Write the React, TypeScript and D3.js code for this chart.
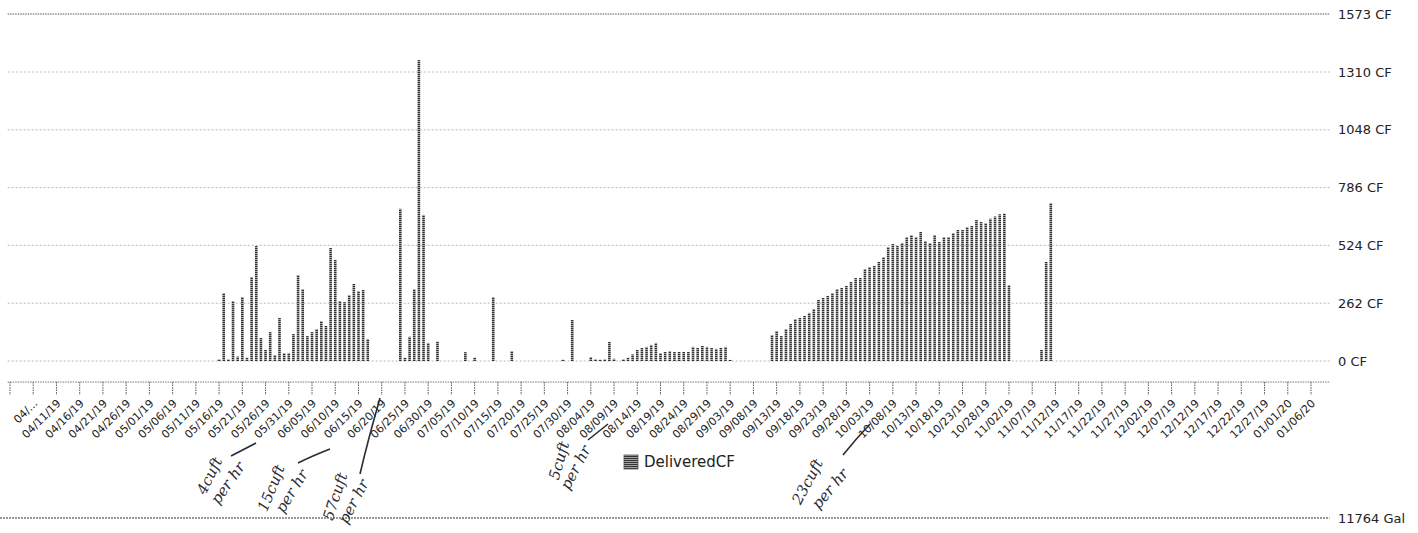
import React from 'react';
import * as d3 from 'd3';

const W = 1418;
const H = 533;

// y axis ticks (cubic feet)
const yTicks = [0, 262, 524, 786, 1048, 1310, 1573];

// x axis tick labels, every 5 days from 04/01/19
const tickLabels = [
  '', '04/...', '04/11/19', '04/16/19', '04/21/19', '04/26/19', '05/01/19', '05/06/19', '05/11/19',
  '05/16/19', '05/21/19', '05/26/19', '05/31/19', '06/05/19', '06/10/19', '06/15/19', '06/20/19',
  '06/25/19', '06/30/19', '07/05/19', '07/10/19', '07/15/19', '07/20/19', '07/25/19', '07/30/19',
  '08/04/19', '08/09/19', '08/14/19', '08/19/19', '08/24/19', '08/29/19', '09/03/19', '09/08/19',
  '09/13/19', '09/18/19', '09/23/19', '09/28/19', '10/03/19', '10/08/19', '10/13/19', '10/18/19',
  '10/23/19', '10/28/19', '11/02/19', '11/07/19', '11/12/19', '11/17/19', '11/22/19', '11/27/19',
  '12/02/19', '12/07/19', '12/12/19', '12/17/19', '12/22/19', '12/27/19', '01/01/20', '01/06/20',
];

// daily delivered volume
const barDates = [
  '05/16/19', '05/17/19', '05/18/19', '05/19/19', '05/20/19', '05/21/19', '05/22/19', '05/23/19',
  '05/24/19', '05/25/19', '05/26/19', '05/27/19', '05/28/19', '05/29/19', '05/30/19', '05/31/19',
  '06/01/19', '06/02/19', '06/03/19', '06/04/19', '06/05/19', '06/06/19', '06/07/19', '06/08/19',
  '06/09/19', '06/10/19', '06/11/19', '06/12/19', '06/13/19', '06/14/19', '06/15/19', '06/16/19',
  '06/17/19', '06/24/19', '06/25/19', '06/26/19', '06/27/19', '06/28/19', '06/29/19', '06/30/19',
  '07/02/19', '07/08/19', '07/10/19', '07/14/19', '07/18/19', '07/29/19', '07/31/19', '08/04/19',
  '08/05/19', '08/06/19', '08/07/19', '08/08/19', '08/09/19', '08/11/19', '08/12/19', '08/13/19',
  '08/14/19', '08/15/19', '08/16/19', '08/17/19', '08/18/19', '08/19/19', '08/20/19', '08/21/19',
  '08/22/19', '08/23/19', '08/24/19', '08/25/19', '08/26/19', '08/27/19', '08/28/19', '08/29/19',
  '08/30/19', '08/31/19', '09/01/19', '09/02/19', '09/03/19', '09/12/19', '09/13/19', '09/14/19',
  '09/15/19', '09/16/19', '09/17/19', '09/18/19', '09/19/19', '09/20/19', '09/21/19', '09/22/19',
  '09/23/19', '09/24/19', '09/25/19', '09/26/19', '09/27/19', '09/28/19', '09/29/19', '09/30/19',
  '10/01/19', '10/02/19', '10/03/19', '10/04/19', '10/05/19', '10/06/19', '10/07/19', '10/08/19',
  '10/09/19', '10/10/19', '10/11/19', '10/12/19', '10/13/19', '10/14/19', '10/15/19', '10/16/19',
  '10/17/19', '10/18/19', '10/19/19', '10/20/19', '10/21/19', '10/22/19', '10/23/19', '10/24/19',
  '10/25/19', '10/26/19', '10/27/19', '10/28/19', '10/29/19', '10/30/19', '10/31/19', '11/01/19',
  '11/02/19', '11/09/19', '11/10/19', '11/11/19',
];
const barValues = [
  8, 308, 8, 272, 20, 290, 15, 381,
  521, 104, 50, 131, 27, 195, 36, 36,
  122, 390, 326, 113, 131, 145, 181, 159,
  512, 458, 272, 267, 299, 349, 317, 322,
  100, 690, 15, 110, 325, 1364, 662, 82,
  88, 40, 15, 290, 45, 6, 186, 18,
  8, 6, 8, 86, 10, 8, 15, 30,
  50, 59, 64, 73, 82, 36, 41, 45,
  41, 41, 41, 41, 64, 59, 68, 64,
  59, 55, 59, 64, 5, 118, 136, 113,
  145, 168, 190, 195, 204, 218, 236, 277,
  286, 295, 308, 326, 331, 340, 358, 376,
  376, 417, 426, 431, 449, 471, 517, 530,
  521, 535, 562, 571, 562, 585, 544, 535,
  571, 539, 562, 562, 580, 594, 594, 607,
  612, 639, 630, 625, 645, 655, 665, 668,
  344, 50, 449, 716,
];

const legendLabel = 'DeliveredCF';
const nextPanelLabel = '11764 Gal';
const handNotes = [
  ['4cuft', 'per hr'],
  ['15cuft', 'per hr'],
  ['57cuft', 'per hr'],
  ['5cuft', 'per hr'],
  ['23cuft', 'per hr'],
];

const parse = d3.utcParse('%m/%d/%y');
const day0 = Date.UTC(2019, 3, 1);

export default function App() {
  const x = d3.scaleUtc()
    .domain([new Date(day0), new Date(Date.UTC(2020, 0, 6))])
    .range([10, 1311]);
  const y = d3.scaleLinear().domain([0, 1573]).range([361, 14]);

  const left = x(new Date(day0 - 0.5 * 864e5));
  const right = x(new Date(Date.UTC(2020, 0, 10)));
  const axisY = 382;
  const tickDates = tickLabels.map((_, i) => new Date(day0 + i * 5 * 864e5));
  const bars = barDates.map((d, i) => ({ date: parse(d) as Date, v: barValues[i] }));
  const bw = 2.6;

  const font = '"DejaVu Sans", Verdana, sans-serif';
  const hand = '"DejaVu Serif", serif';

  const noteSpots = [
    { a: [214, 478, -64], b: [232, 486, -55], line: 'M231,456 L256,443' },
    { a: [276, 490, -68], b: [296, 494, -58], line: 'M298,463 Q312,456 330,449' },
    { a: [340, 498, -72], b: [358, 504, -62], line: 'M360,474 Q368,440 380,398' },
    { a: [564, 462, -74], b: [580, 470, -62], line: 'M588,440 L608,424' },
    { a: [812, 484, -62], b: [834, 492, -50], line: 'M843,455 Q855,440 870,424' },
  ];

  return (
    <svg width={W} height={H} style={{ position: 'absolute', left: 0, top: 0, background: '#fff' }}>
      <defs>
        <pattern id="dash" width="3" height="2" patternUnits="userSpaceOnUse">
          <rect width="3" height="2" fill="#b0b0b0" />
          <rect width="3" height="1.1" fill="#333" />
        </pattern>
      </defs>

      {/* grid + y labels */}
      {yTicks.map((t, i) => (
        <g key={t}>
          <line x1={left} x2={right} y1={y(t)} y2={y(t)}
            stroke={i === yTicks.length - 1 ? '#555' : '#a8a8a8'}
            strokeWidth={i === yTicks.length - 1 ? 1 : 0.8}
            strokeDasharray={i === yTicks.length - 1 ? '1.5 1' : '2 2'} />
          <text x={1338} y={y(t)} dy="0.35em" fontFamily={font} fontSize={13} fill="#222">{t} CF</text>
        </g>
      ))}

      {/* bars */}
      {bars.map((b, i) => (
        <rect key={i} x={x(b.date) - bw / 2} y={y(b.v)} width={bw} height={Math.max(0.5, y(0) - y(b.v))}
          fill="url(#dash)" />
      ))}

      {/* x axis */}
      <line x1={left} x2={right} y1={axisY} y2={axisY} stroke="#777" strokeWidth={1} strokeDasharray="1.5 1" />
      {tickDates.map((d, i) => (
        <g key={i} transform={`translate(${x(d)},0)`}>
          <line y1={axisY} y2={axisY + 13} stroke="#555" strokeWidth={1} strokeDasharray="1.5 1" />
          <text transform={`translate(5,${axisY + 22}) rotate(-45)`} textAnchor="end"
            fontFamily={font} fontSize={11} fill="#222">{tickLabels[i]}</text>
        </g>
      ))}

      {/* legend */}
      <rect x={624} y={455} width={14} height={14} fill="url(#dash)" stroke="#555" strokeWidth={0.8} />
      <text x={644} y={467} fontFamily={font} fontSize={15} fill="#222">{legendLabel}</text>

      {/* next panel top line */}
      <line x1={0} x2={right} y1={518} y2={518} stroke="#333" strokeWidth={1.2} strokeDasharray="2 1" />
      <text x={1338} y={518} dy="0.35em" fontFamily={font} fontSize={13} fill="#222">{nextPanelLabel}</text>

      {/* handwritten notes */}
      {noteSpots.map((s, i) => (
        <g key={i} fill="#2b2b33" fontFamily={hand} fontStyle="italic" fontSize={15}>
          <text transform={`translate(${s.a[0]},${s.a[1]}) rotate(${s.a[2]})`} textAnchor="middle">{handNotes[i][0]}</text>
          <text transform={`translate(${s.b[0]},${s.b[1]}) rotate(${s.b[2]})`} textAnchor="middle">{handNotes[i][1]}</text>
          <path d={s.line} fill="none" stroke="#2b2b33" strokeWidth={1.6} />
        </g>
      ))}
    </svg>
  );
}
